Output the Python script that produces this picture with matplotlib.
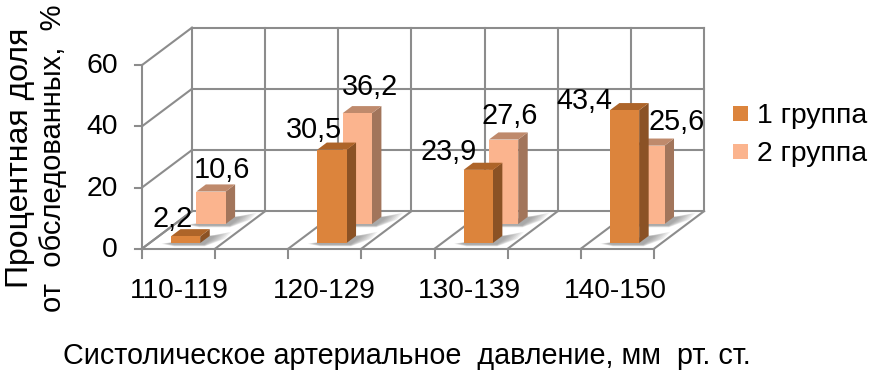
import matplotlib
matplotlib.use("Agg")
import matplotlib.pyplot as plt
from matplotlib.patches import Polygon, Rectangle

categories = ["110-119", "120-129", "130-139", "140-150"]
group1 = [2.2, 30.5, 23.9, 43.4]
group2 = [10.6, 36.2, 27.6, 25.6]
group1_labels = ["2,2", "30,5", "23,9", "43,4"]
group2_labels = ["10,6", "36,2", "27,6", "25,6"]
series_names = ["1 группа", "2 группа"]
y_ticks = [0, 20, 40, 60]
y_title = ["Процентная доля", "от  обследованных,  %"]
x_title = "Систолическое артериальное  давление, мм  рт. ст."

W, H = 878, 382
PX_X, PX_Y = 146.3, 3.06      # pixels per category / per value unit
X0, Y0 = 142.0, 248.7         # pixel of the front-left floor corner
DEPTH_X, DEPTH_Y = 50.0, 37.5 # pixel shift from the front to the back wall
N_SPAN = 3.5                  # floor width in categories
YMAX = 60

plt.rcParams["font.family"] = ["Liberation Sans", "DejaVu Sans"]
fig = plt.figure(figsize=(W / 100, H / 100), dpi=100)
ax = fig.add_axes([0, 0, 1, 1])
ax.set_xlim(-X0 / PX_X, (W - X0) / PX_X)
ax.set_ylim(-(H - Y0) / PX_Y, Y0 / PX_Y)
ax.axis("off")

def pr(c, v, d=0.0):
    """Oblique projection: category c, value v, depth d (0 front, 1 back)."""
    return (c + d * DEPTH_X / PX_X, v + d * DEPTH_Y / PX_Y)

GRID = "#8c8c8c"
def line(p, q, z=1, lw=1.5):
    ax.plot([p[0], q[0]], [p[1], q[1]], color=GRID, lw=lw, zorder=z,
            solid_capstyle="projecting")

# walls and floor
for v in y_ticks:
    line(pr(0, v), pr(0, v, 1))
    line(pr(0, v, 1), pr(N_SPAN, v, 1))
    line(pr(-7 / PX_X, v), pr(0, v))
for k in range(8):
    c = k * 0.5
    line(pr(c, 0, 1), pr(c, YMAX, 1))
    line(pr(c, 0), pr(c, 0, 1))
    line(pr(c, 0), pr(c, -9.5 / PX_Y))
line(pr(0, 0), pr(0, YMAX))
line(pr(0, 0), pr(N_SPAN, 0))

BAR_W = 0.2
BAR_D = 0.19
OFFSET = 21.4 / PX_X
STYLES = [
    {"d": 0.152, "front": "#DC843C", "top": "#AD6429", "side": "#8B5225"},
    {"d": 0.659, "front": "#FBB48E", "top": "#BF8A6C", "side": "#A2755B"},
]

def shadow(c0, d, z):
    c1 = c0 + BAR_W
    n = 8
    for i in range(n):
        g = 1 - i / n
        poly = [pr(c0 - 0.06 * g, 0, d - 0.02),
                pr(c0 + 0.02, -0.4 - 0.7 * g, d),
                pr(c1 + 0.03, -0.4 - 0.7 * g, d),
                pr(c1 + 0.03 + 0.10 * g, 0, d + 0.05 + 0.06 * g),
                pr(c1 + 0.03 + 0.08 * g, 0, d + 0.16 + 0.14 * g),
                pr(c1, 0, d + BAR_D)]
        ax.add_patch(Polygon(poly, closed=True, fc="#707070", ec="none",
                             alpha=0.1, zorder=z))

def bar(c0, v, style, z):
    d = style["d"]
    c1 = c0 + BAR_W
    d2 = d + BAR_D
    ax.add_patch(Polygon([pr(c1, 0, d), pr(c1, 0, d2), pr(c1, v, d2), pr(c1, v, d)],
                         closed=True, fc=style["side"], ec="none", zorder=z))
    ax.add_patch(Polygon([pr(c0, v, d), pr(c1, v, d), pr(c1, v, d2), pr(c0, v, d2)],
                         closed=True, fc=style["top"], ec="none", zorder=z))
    ax.add_patch(Polygon([pr(c0, 0, d), pr(c1, 0, d), pr(c1, v, d), pr(c0, v, d)],
                         closed=True, fc=style["front"], ec="none", zorder=z))

for i in range(len(categories)):
    c0 = i + OFFSET
    shadow(c0, STYLES[1]["d"], 2)
    bar(c0, group2[i], STYLES[1], 3)
    shadow(c0, STYLES[0]["d"], 4)
    bar(c0, group1[i], STYLES[0], 5)

def px_text(x, y, s, size, **kw):
    kw.setdefault("ha", "center")
    kw.setdefault("va", "center")
    fig.text(x / W, 1 - y / H, s, fontsize=size, color="black", zorder=10, **kw)

LABEL_SIZE = 20.8
POS1 = [(172.5, 219), (314, 130), (449, 152), (584, 101)]
POS2 = [(221.7, 170), (370, 87), (510, 116), (677, 122)]
for (x, y), s in zip(POS1, group1_labels):
    px_text(x, y, s, LABEL_SIZE)
for (x, y), s in zip(POS2, group2_labels):
    px_text(x, y, s, LABEL_SIZE)

for v in y_ticks:
    px_text(118, Y0 - v * PX_Y + 1, str(v), 20.4, ha="right")
for i, s in enumerate(categories):
    px_text(179 + i * 145.3, 291, s, 20.2)

# legend
for k, (name, st, yc) in enumerate(zip(series_names, STYLES, (113, 151))):
    ax.add_patch(Rectangle(((733 - X0) / PX_X, (Y0 - yc - 7.5) / PX_Y),
                           15 / PX_X, 15 / PX_Y, fc=st["front"], ec="none", zorder=6))
    px_text(757, yc + 3, name, 20.4, ha="left")

px_text(407, 356, x_title, 20.7)
px_text(20, 158, y_title[0], 23, rotation=90)
px_text(53, 158, y_title[1], 21, rotation=90)

fig.savefig("out.png", dpi=100, facecolor="white")
